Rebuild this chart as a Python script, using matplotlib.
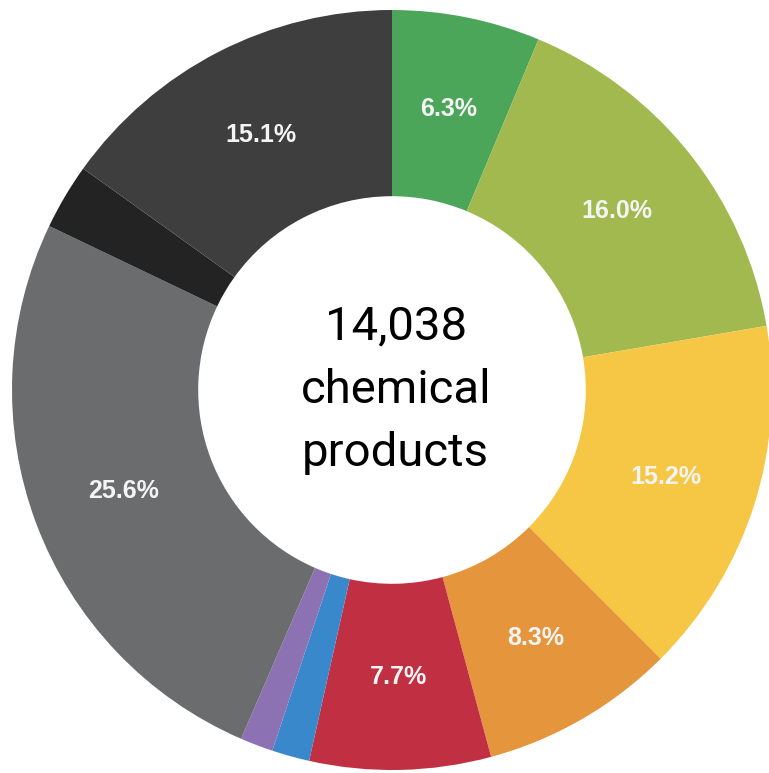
import matplotlib.pyplot as plt
import numpy as np

categories = ['A', 'B', 'C', 'D', 'E', 'F', 'G', 'H', 'I', 'J']
shares = [6.3, 16.0, 15.2, 8.3, 7.7, 1.6, 1.4, 25.6, 2.8, 15.1]
labels = ['6.3%', '16.0%', '15.2%', '8.3%', '7.7%', '', '', '25.6%', '', '15.1%']
colors = ['#4ba65a', '#a2b94f', '#f5c745', '#e5953b', '#c12f43',
          '#3a88cc', '#8c72b3', '#6b6c6e', '#232323', '#3e3e3e']
center_text = '14,038\nchemical\nproducts'

W, H = 769, 773
cx, cy, R = 392, 383, 380  # pixel centre (from bottom) and outer radius

fig = plt.figure(figsize=(W / 100, H / 100), dpi=100)
ax = fig.add_axes([0, 0, 1, 1])
ax.pie(shares, colors=colors, startangle=90, counterclock=False,
       radius=1, wedgeprops=dict(width=0.49, linewidth=0),
       labels=labels, labeldistance=None)

# percentage labels in the middle of the ring
start = 90.0
for s, lab in zip(shares, labels):
    mid = start - s * 3.6 / 2
    start -= s * 3.6
    if lab:
        r = 0.755
        ax.text(r * np.cos(np.radians(mid)), r * np.sin(np.radians(mid)), lab,
                ha='center', va='center', color='#f4f4f4',
                fontsize=18, fontweight='bold', family='Liberation Sans')

ax.text(0.01, 0.0, center_text, ha='center', va='center', fontsize=34,
        family='Roboto', color='black', linespacing=1.55)

ax.set_xlim(-cx / R, (W - cx) / R)
ax.set_ylim(-cy / R, (H - cy) / R)
ax.set_aspect('auto')
ax.axis('off')
fig.savefig('out.png', dpi=100, facecolor='white')
